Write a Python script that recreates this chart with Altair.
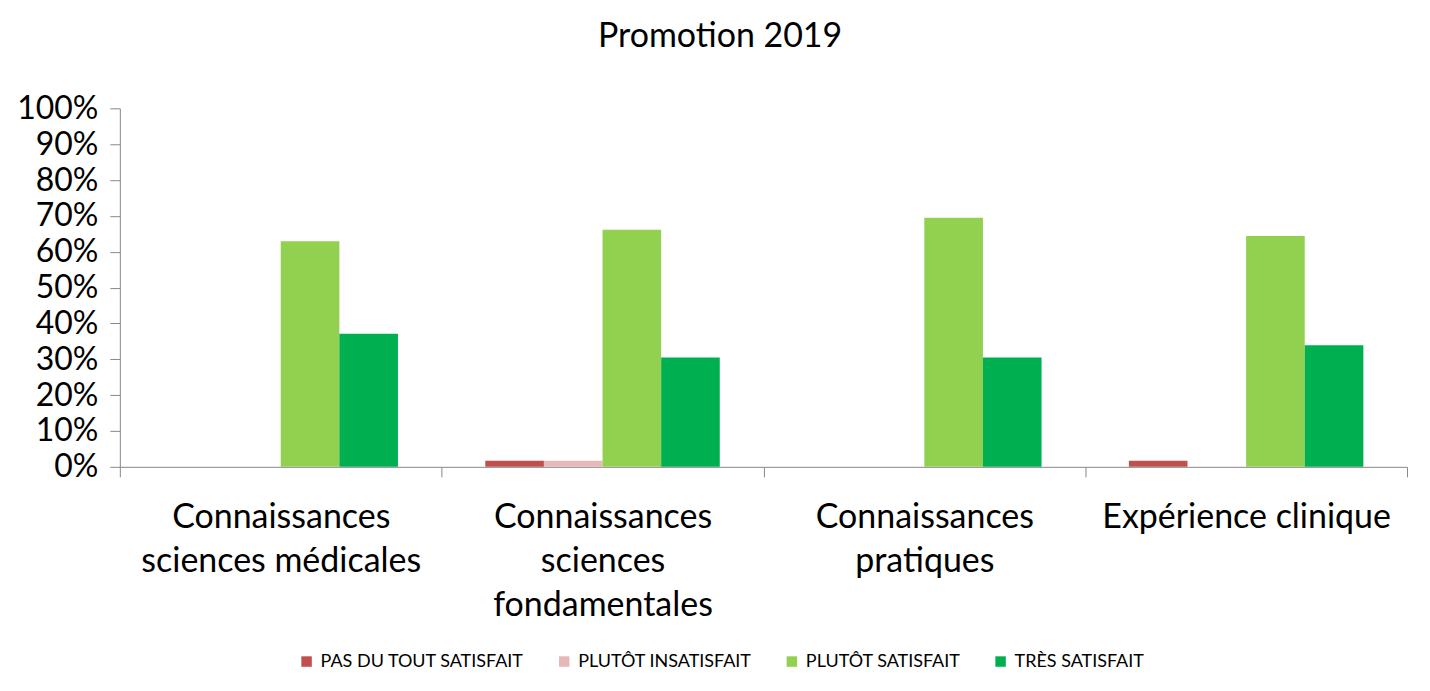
import altair as alt
import pandas as pd

categories = [
    "Connaissances|sciences médicales",
    "Connaissances|sciences|fondamentales",
    "Connaissances|pratiques",
    "Expérience clinique",
]
series = ["PAS DU TOUT SATISFAIT", "PLUTÔT INSATISFAIT", "PLUTÔT SATISFAIT", "TRÈS SATISFAIT"]
colors = ["#C0504D", "#E6B9B8", "#92D050", "#00B050"]

pas_du_tout = [0.0, 0.017, 0.0, 0.017]
plutot_insatisfait = [0.0, 0.017, 0.0, 0.0]
plutot_satisfait = [0.629, 0.661, 0.695, 0.644]
tres_satisfait = [0.371, 0.305, 0.305, 0.339]

rows = []
for vals, s in zip([pas_du_tout, plutot_insatisfait, plutot_satisfait, tres_satisfait], series):
    for c, v in zip(categories, vals):
        rows.append({"cat": c, "series": s, "value": v})
df = pd.DataFrame(rows)

FONT = "Lato"

chart = alt.Chart(df).mark_bar().encode(
    x=alt.X("cat:N", sort=categories,
            scale=alt.Scale(paddingInner=0, paddingOuter=0),
            axis=alt.Axis(title=None, labelAngle=0, tickBand="extent", tickSize=10,
                          domainColor="#888888", tickColor="#888888",
                          labelFontSize=34, labelLineHeight=44, labelPadding=24,
                          labelColor="black", labelFont=FONT, labelLimit=0,
                          labelExpr="split(datum.label, '|')")),
    xOffset=alt.XOffset("series:N", sort=series,
                        scale=alt.Scale(paddingInner=0, paddingOuter=0.745)),
    y=alt.Y("value:Q", scale=alt.Scale(domain=[0, 1], nice=False),
            axis=alt.Axis(title=None, values=[i / 10 for i in range(11)], format=".0%",
                          grid=False, tickSize=10, domainColor="#888888", tickColor="#888888",
                          labelFontSize=32, labelColor="black", labelPadding=12, labelFont=FONT,
                          labelLimit=0)),
    color=alt.Color("series:N", sort=series,
                    scale=alt.Scale(domain=series, range=colors),
                    legend=alt.Legend(title=None, orient="none", direction="horizontal",
                                      legendX=178, legendY=545, padding=0,
                                      symbolType="square", symbolSize=110, symbolStrokeWidth=0,
                                      labelFontSize=18, labelFont=FONT, labelColor="black",
                                      labelOffset=5, labelLimit=0, columnPadding=31)),
).properties(
    width=1289, height=359,
    title=alt.Title("Promotion 2019", fontSize=34, font=FONT, fontWeight="normal",
                    color="black", anchor="middle", frame="bounds", offset=38, dx=8),
    padding={"left": 8, "top": 12, "right": 14, "bottom": 5},
).configure_view(stroke=None)

chart.save("out.html", embed_options={"renderer": "svg", "actions": False})
